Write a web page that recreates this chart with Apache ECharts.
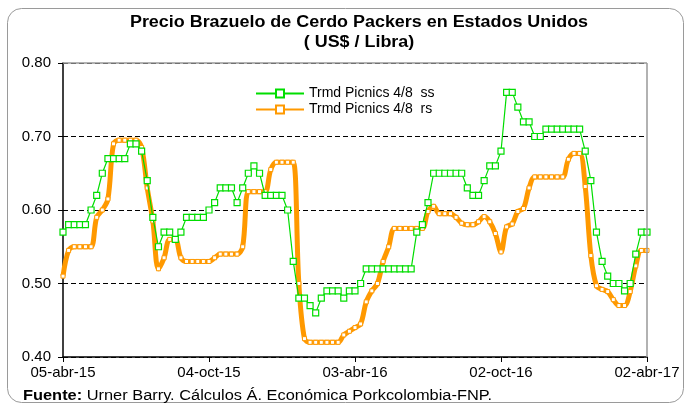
<!DOCTYPE html>
<html>
<head>
<meta charset="utf-8">
<script src="https://cdn.jsdelivr.net/npm/echarts@6/dist/echarts.min.js"></script>
<style>
  html, body { margin: 0; padding: 0; background: #fff; }
  #chart { width: 686px; height: 406px; }
</style>
</head>
<body>
<div id="chart"></div>
<script>
// weekly prices, 05-abr-15 .. 02-abr-17 (105 weeks)
const ssValues = [
  0.57, 0.58, 0.58, 0.58, 0.58, 0.60, 0.62, 0.65, 0.67, 0.67,
  0.67, 0.67, 0.69, 0.69, 0.68, 0.64, 0.59, 0.55, 0.57, 0.57,
  0.56, 0.57, 0.59, 0.59, 0.59, 0.59, 0.60, 0.61, 0.63, 0.63,
  0.63, 0.61, 0.63, 0.65, 0.66, 0.65, 0.62, 0.62, 0.62, 0.62,
  0.60, 0.53, 0.48, 0.48, 0.47, 0.46, 0.48, 0.49, 0.49, 0.49,
  0.48, 0.49, 0.49, 0.50, 0.52, 0.52, 0.52, 0.52, 0.52, 0.52,
  0.52, 0.52, 0.52, 0.57, 0.58, 0.61, 0.65, 0.65, 0.65, 0.65,
  0.65, 0.65, 0.63, 0.62, 0.62, 0.64, 0.66, 0.66, 0.68, 0.76,
  0.76, 0.74, 0.72, 0.72, 0.70, 0.70, 0.71, 0.71, 0.71, 0.71,
  0.71, 0.71, 0.71, 0.68, 0.64, 0.57, 0.53, 0.51, 0.50, 0.50,
  0.49, 0.50, 0.54, 0.57, 0.57
];
const rsValues = [
  0.51, 0.545, 0.55, 0.55, 0.55, 0.55, 0.59, 0.60, 0.615, 0.69,
  0.695, 0.695, 0.695, 0.695, 0.685, 0.63, 0.585, 0.52, 0.535, 0.56,
  0.56, 0.535, 0.53, 0.53, 0.53, 0.53, 0.53, 0.535, 0.54, 0.54,
  0.54, 0.54, 0.55, 0.625, 0.625, 0.625, 0.625, 0.655, 0.665, 0.665,
  0.665, 0.665, 0.50, 0.425, 0.42, 0.42, 0.42, 0.42, 0.42, 0.42,
  0.43, 0.435, 0.44, 0.445, 0.475, 0.49, 0.50, 0.53, 0.55, 0.575,
  0.575, 0.575, 0.575, 0.575, 0.575, 0.598, 0.605, 0.595, 0.595, 0.595,
  0.59, 0.582, 0.58, 0.58, 0.584, 0.591, 0.584, 0.568, 0.543, 0.577,
  0.581, 0.598, 0.602, 0.63, 0.645, 0.645, 0.645, 0.645, 0.645, 0.645,
  0.669, 0.677, 0.677, 0.632, 0.538, 0.497, 0.492, 0.489, 0.478, 0.47,
  0.47, 0.489, 0.524, 0.545, 0.545
];
const tickLabels = ['05-abr-15', '04-oct-15', '03-abr-16', '02-oct-16', '02-abr-17'];
const seriesNames = ['Trmd Picnics 4/8  ss', 'Trmd Picnics 4/8  rs'];

const toPoints = arr => arr.map((v, i) => [i, v]);
const font = 'Arial, "Liberation Sans", sans-serif';

const chart = echarts.init(document.getElementById('chart'));
chart.setOption({
  animation: false,
  backgroundColor: '#fff',
  textStyle: { fontFamily: font },
  graphic: [
    {
      type: 'rect', left: 5, top: 6, z: -1,
      shape: { width: 676, height: 394, r: 14 },
      style: { fill: 'none', stroke: '#9a9a9a', lineWidth: 1 }
    },
    {
      type: 'text', x: 359, y: 23, scaleX: 1.12,
      style: {
        text: 'Precio Brazuelo de Cerdo Packers en Estados Unidos',
        font: 'bold 16px ' + font, fill: '#000', align: 'center', verticalAlign: 'middle'
      }
    },
    {
      type: 'text', x: 359, y: 43, scaleX: 1.12,
      style: {
        text: '( US$ / Libra)',
        font: 'bold 16px ' + font, fill: '#000', align: 'center', verticalAlign: 'middle'
      }
    },
    {
      type: 'text', x: 23, y: 396, scaleX: 1.17,
      style: {
        text: '{b|Fuente:} Urner Barry. Cálculos Á. Económica Porkcolombia-FNP.',
        font: '14px ' + font, fill: '#000', verticalAlign: 'middle',
        rich: { b: { fontWeight: 'bold', fontSize: 14, fontFamily: font } }
      }
    }
  ],
  legend: {
    left: 250, top: 81, orient: 'vertical', itemGap: 1,
    itemWidth: 48, itemHeight: 10,
    textStyle: { fontSize: 14, lineHeight: 15, color: '#000', fontFamily: font },
    data: seriesNames
  },
  grid: { left: 63, right: 39, top: 63, bottom: 49 },
  xAxis: {
    type: 'value', min: 0, max: 104, interval: 26,
    axisLine: { lineStyle: { color: '#000', width: 1.5 } },
    axisTick: { show: true, length: 5, lineStyle: { color: '#000' } },
    axisLabel: {
      fontSize: 15, color: '#000', margin: 8,
      formatter: v => tickLabels[Math.round(v / 26)]
    },
    splitLine: { show: false }
  },
  yAxis: {
    type: 'value', min: 0.4, max: 0.8, interval: 0.1,
    axisLine: { show: true, lineStyle: { color: '#000', width: 1.5 } },
    axisTick: { show: true, length: 5, lineStyle: { color: '#000' } },
    axisLabel: { fontSize: 15, color: '#000', margin: 12, formatter: v => v.toFixed(2) },
    splitLine: { show: true, lineStyle: { color: '#000', type: [5, 3], width: 1 } }
  },
  series: [
    {
      // plot frame: top and right edges
      type: 'line', silent: true, data: [],
      markLine: {
        silent: true, symbol: 'none', label: { show: false },
        lineStyle: { color: '#999', type: 'solid', width: 1.5 },
        data: [{ yAxis: 0.8 }, { xAxis: 104 }]
      }
    },
    {
      name: seriesNames[1],
      type: 'line',
      data: toPoints(rsValues),
      smooth: 0.35,
      lineStyle: { color: '#ff9900', width: 5 },
      itemStyle: { color: '#fff', borderColor: '#ff9900', borderWidth: 1 },
      symbol: 'rect', symbolSize: 4, showAllSymbol: true,
      z: 2
    },
    {
      name: seriesNames[0],
      type: 'line',
      data: toPoints(ssValues),
      lineStyle: { color: '#00dd00', width: 1.2 },
      itemStyle: { color: '#fff', borderColor: '#00dd00', borderWidth: 1.2 },
      symbol: 'rect', symbolSize: 6, showAllSymbol: true,
      z: 3
    }
  ]
});
</script>
</body>
</html>
